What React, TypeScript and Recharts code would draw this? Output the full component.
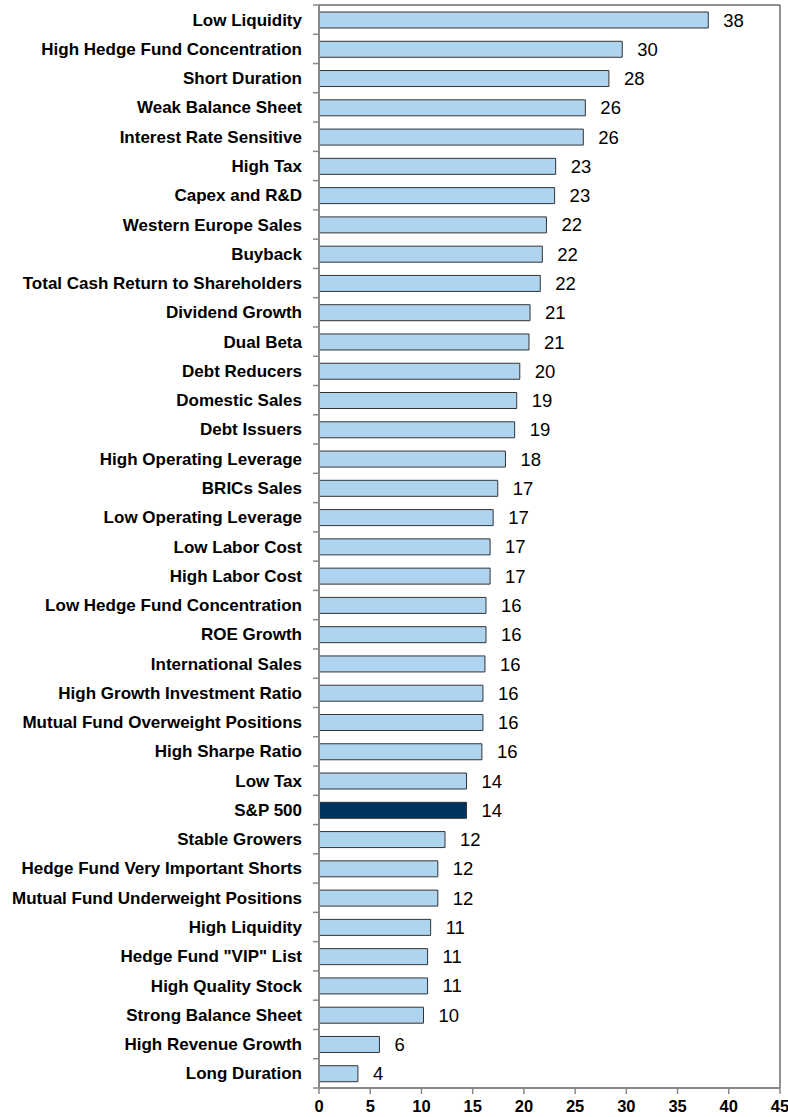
import React from 'react';
import { BarChart, Bar, XAxis, YAxis, Cell, LabelList, ReferenceArea } from 'recharts';

const categories = [
  'Low Liquidity', 'High Hedge Fund Concentration', 'Short Duration', 'Weak Balance Sheet',
  'Interest Rate Sensitive', 'High Tax', 'Capex and R&D', 'Western Europe Sales', 'Buyback',
  'Total Cash Return to Shareholders', 'Dividend Growth', 'Dual Beta', 'Debt Reducers',
  'Domestic Sales', 'Debt Issuers', 'High Operating Leverage', 'BRICs Sales',
  'Low Operating Leverage', 'Low Labor Cost', 'High Labor Cost', 'Low Hedge Fund Concentration',
  'ROE Growth', 'International Sales', 'High Growth Investment Ratio',
  'Mutual Fund Overweight Positions', 'High Sharpe Ratio', 'Low Tax', 'S&P 500', 'Stable Growers',
  'Hedge Fund Very Important Shorts', 'Mutual Fund Underweight Positions', 'High Liquidity',
  'Hedge Fund "VIP" List', 'High Quality Stock', 'Strong Balance Sheet', 'High Revenue Growth',
  'Long Duration',
];

const values = [
  38.0, 29.6, 28.3, 26.0, 25.8, 23.1, 23.0, 22.2, 21.8, 21.6, 20.6, 20.5, 19.6, 19.3, 19.1, 18.2,
  17.45, 17.0, 16.7, 16.7, 16.3, 16.3, 16.2, 16.0, 16.0, 15.9, 14.4, 14.4, 12.3, 11.6, 11.6, 10.9,
  10.6, 10.6, 10.2, 5.9, 3.8,
];

const labels = [
  38, 30, 28, 26, 26, 23, 23, 22, 22, 22, 21, 21, 20, 19, 19, 18, 17, 17, 17, 17, 16, 16, 16, 16,
  16, 16, 14, 14, 12, 12, 12, 11, 11, 11, 10, 6, 4,
];

const xTicks = [0, 5, 10, 15, 20, 25, 30, 35, 40, 45];
const highlight = 'S&P 500';

const data = categories.map((name, i) => ({ name, value: values[i], label: labels[i] }));

const W = 788;
const H = 1117;
const M = { top: 5, right: 8, bottom: 0, left: 0 };
const Y_W = 319;
const X_H = 29;
const PLOT_H = H - M.top - M.bottom - X_H;
const BAND = PLOT_H / categories.length;
const FONT = '"Liberation Sans", Arial, sans-serif';

const YTick = (props: any) => {
  const { y, payload, index } = props;
  const axisX = Y_W;
  const top = y - BAND / 2;
  const bottom = y + BAND / 2;
  return (
    <g>
      <line x1={axisX - 6} x2={axisX} y1={top} y2={top} stroke="#888" strokeWidth={1.5} />
      {index === categories.length - 1 && (
        <line x1={axisX - 6} x2={axisX} y1={bottom} y2={bottom} stroke="#888" strokeWidth={1.5} />
      )}
      <text x={302} y={y + 6} textAnchor="end" fontFamily={FONT} fontSize={17} fontWeight="bold" fill="#000">
        {payload.value}
      </text>
    </g>
  );
};

export default function App() {
  return (
    <div style={{ position: 'absolute', left: 0, top: 0, width: W, height: H, background: '#fff' }}>
      <BarChart width={W} height={H} data={data} layout="vertical" margin={M}>
        <ReferenceArea x1={0} x2={45} fill="none" stroke="#222" strokeWidth={1} ifOverflow="extendDomain" />
        <XAxis
          type="number"
          domain={[0, 45]}
          ticks={xTicks}
          height={X_H}
          axisLine={{ stroke: '#888', strokeWidth: 2 }}
          tickLine={{ stroke: '#888', strokeWidth: 1.5 }}
          tickSize={6}
          tickMargin={6}
          tick={{ fontFamily: FONT, fontSize: 16.5, fontWeight: 'bold', fill: '#000' }}
          interval={0}
        />
        <YAxis
          type="category"
          dataKey="name"
          width={Y_W}
          axisLine={{ stroke: '#888', strokeWidth: 2 }}
          tickLine={false}
          tick={<YTick />}
          interval={0}
        />
        <Bar dataKey="value" barSize={16} stroke="#333" strokeWidth={1} isAnimationActive={false}>
          {data.map((d) => (
            <Cell key={d.name} fill={d.name === highlight ? '#00335E' : '#AFD4F0'} />
          ))}
          <LabelList
            dataKey="label"
            position="right"
            offset={15}
            style={{ fontFamily: FONT, fontSize: 18.5, fill: '#000' }}
          />
        </Bar>
      </BarChart>
    </div>
  );
}
